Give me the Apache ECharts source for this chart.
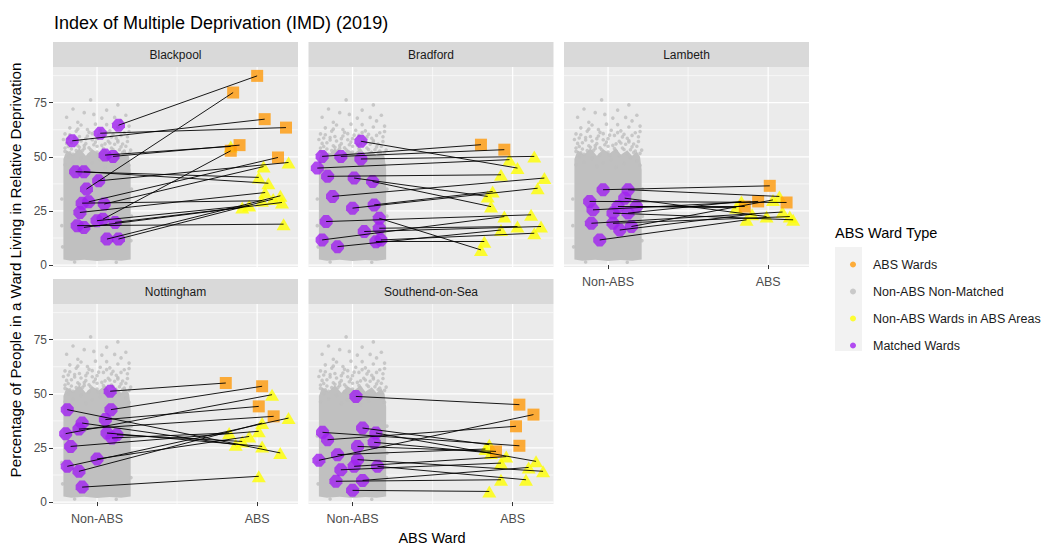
<!DOCTYPE html>
<html><head><meta charset="utf-8">
<script src="https://cdn.jsdelivr.net/npm/echarts@6/dist/echarts.min.js"></script>
<style>html,body{margin:0;padding:0;background:#fff}#c{width:1051px;height:547px}</style>
</head><body><div id="c"></div>
<script>
// ---------------- DATA ----------------
const chartTitle = 'Index of Multiple Deprivation (IMD) (2019)';
const yTitle = 'Percentage of People in a Ward Living in Relative Deprivation';
const xTitle = 'ABS Ward';
const legendTitle = 'ABS Ward Type';
const panelNames = ['Blackpool', 'Bradford', 'Lambeth', 'Nottingham', 'Southend-on-Sea'];
const xCategories = ['Non-ABS', 'ABS'];          // placed at x = 1 and x = 2
const xTickValues = [1, 2];
const xMinorValues = [1.5];
const yTickValues = [0, 25, 50, 75];
const yMinorValues = [12.5, 37.5, 62.5, 87.5];
const seriesNames = ['ABS Wards', 'Non-ABS Non-Matched', 'Non-ABS Wards in ABS Areas', 'Matched Wards'];

// dense core of the jittered non-matched cloud (outline, data units)
const greyCloudCore = [[0.79,2.6],[0.84,2.0],[0.92,2.4],[1.0,1.9],[1.08,2.3],[1.15,2.0],[1.21,2.6],[1.21,44],[1.2,50],[1.18,52.5],[1.15,50.5],[1.12,53],[1.08,51],[1.05,54],[1.01,51.5],[0.97,53.5],[0.93,50.5],[0.89,54],[0.85,51],[0.81,53],[0.79,49],[0.79,40]];
// non-matched wards around and above the dense core
const greyPoints = [[0.96,76.3],[1.13,74.0],[1.06,71.6],[0.85,72.1],[0.92,70.4],[1.18,69.2],[0.81,68.3],[1.03,67.9],[1.15,66.6],[0.88,66.0],[0.99,65.1],[1.2,64.2],[0.83,63.4],[0.94,62.6],[1.08,62.0],[1.17,61.1],[0.8,60.6],[1.01,60.0],[0.89,59.4],[1.12,58.6],[0.97,57.9],[1.19,57.1],[0.84,56.5],[1.05,56.0],[0.92,55.2],[1.15,54.6],[0.8,54.1],[1.1,53.4],[0.87,52.9],[1.0,52.2],[1.2,51.6],[0.95,51.0],[1.07,50.6],[0.82,50.1],[1.14,49.6],[0.9,49.3],[1.02,48.7],[1.18,48.2],[0.85,47.6],[0.97,47.2],[1.1,46.9],[1.2,46.1],[0.8,46.3],[0.93,45.6],[1.05,45.1],[0.86,57.8],[1.09,59.2],[0.95,61.3],[1.13,63.8],[0.9,64.7],[1.04,53.8],[0.98,55.6],[1.17,52.7],[0.83,51.8],[1.12,51.2],[0.89,54.4],[1.01,50.8],[1.16,55.9],[0.82,58.7],[0.93,58.4],[1.06,64.9],[0.87,61.9],[1.11,68.2],[0.98,69.6],
  [0.80,52.5],[0.84,53.6],[0.88,55.1],[0.91,53.0],[0.95,54.2],[0.99,56.8],[1.03,55.3],[1.07,57.2],[1.11,55.8],[1.14,53.3],[1.18,54.9],[1.21,53.1],[0.81,56.2],[0.86,58.9],[0.9,57.3],[0.94,59.6],[1.0,58.4],[1.04,59.9],[1.08,56.4],[1.13,57.5],[1.19,59.3],[0.79,58.0],[0.83,60.2],[0.97,60.7],[1.06,61.2],[1.15,59.9],[1.2,61.7],[0.88,62.8],[1.02,62.3],[1.1,60.4],[0.92,53.9],[1.05,52.7],[1.16,52.0],[0.85,51.2],[0.96,53.3],[1.09,54.1],[1.0,54.9],[0.82,54.8],[1.13,56.9],[0.93,56.1],
  [0.78,30.5],[0.78,18.2],[0.785,8.4],[1.215,35.1],[1.215,22.6],[1.212,11.3],[0.86,1.4],[1.12,1.3]];

// matched wards (Non-ABS side) and their partner (ABS side); type A = ABS Ward, N = Non-ABS Ward in ABS Area
const blackpoolMatched = [[0.845,57.4],[1.02,60.9],[1.134,64.6],[1.05,50.8],[1.10,50.2],[0.866,43.1],[0.918,43.1],[1.01,38.9],[0.934,35.1],[0.948,29.2],[1.045,28.2],[0.893,24.3],[0.907,28.6],[0.876,18.2],[0.918,17.4],[1.0,20.5],[1.037,21.2],[1.113,19.7],[1.062,12.0],[1.134,12.0]];
const blackpoolPartners = [[2.047,67.4],[2.18,63.5],[2.0,87.4],[1.835,54.8],[1.89,55.4],[2.01,40.5],[2.07,37.8],[2.196,47.4],[1.85,79.7],[2.13,49.7],[2.04,45.5],[2.05,33.5],[2.03,29.7],[2.165,18.9],[1.907,26.6],[1.95,27.5],[1.835,52.8],[2.155,28.9],[2.145,32.0],[2.10,30.5]];
const blackpoolPartnerType = ['A','A','A','N','A','N','N','N','A','A','N','N','N','N','N','N','A','N','N','N'];

const bradfordMatched = [[1.052,57.2],[0.81,50.2],[0.927,50.2],[1.052,49.0],[0.78,44.8],[0.844,41.0],[1.01,40.2],[1.125,38.6],[0.875,31.7],[1.0,26.3],[1.135,27.8],[0.835,20.1],[1.167,21.6],[1.073,15.5],[0.81,11.6],[0.906,8.5],[1.146,10.8],[1.167,17.0],[1.177,11.6]];
const bradfordPartners = [[2.03,44.8],[1.802,55.6],[1.948,53.3],[2.135,50.2],[1.98,48.7],[1.927,41.7],[1.844,31.7],[1.865,27.0],[2.198,40.2],[2.156,35.5],[1.875,34.0],[2.115,23.2],[1.802,7.0],[2.177,17.8],[1.948,22.4],[1.927,16.2],[1.823,10.8],[2.03,17.8],[2.135,14.7]];
const bradfordPartnerType = ['N','A','A','N','N','N','N','N','N','N','N','N','N','N','N','N','N','N','N'];

const lambethMatched = [[0.969,34.8],[1.125,34.8],[0.885,29.4],[1.104,30.9],[0.906,25.5],[1.031,24.0],[1.125,24.0],[0.896,19.3],[1.031,19.3],[1.073,16.2],[1.146,17.8],[0.948,11.6],[1.062,27.0],[1.177,27.0]];
const lambethPartners = [[2.01,36.6],[2.07,31.7],[2.115,28.9],[1.99,22.4],[1.9375,29.4],[2.156,20.9],[1.833,29.4],[2.09,24.5],[2.135,22.4],[1.90,23.5],[2.03,30.1],[1.865,20.9],[1.854,27.0],[1.80,26.5]];
const lambethPartnerType = ['A','N','A','N','A','N','N','N','N','N','N','N','A','N'];

const nottinghamMatched = [[1.082,51.2],[1.087,42.7],[0.814,42.7],[1.052,38.1],[0.907,36.5],[0.887,33.7],[0.804,31.6],[1.062,31.9],[1.093,29.6],[0.835,25.7],[0.814,16.5],[0.887,14.2],[1.0,19.9],[0.907,6.9],[1.124,31.1]];
const nottinghamPartners = [[1.804,55.0],[2.031,53.5],[2.144,22.7],[2.01,44.2],[1.866,26.5],[2.103,39.6],[2.093,49.6],[2.031,25.7],[1.825,31.9],[2.01,32.7],[2.196,38.8],[2.031,36.5],[1.95,30.3],[2.01,11.9],[1.907,28.0]];
const nottinghamPartnerType = ['A','A','N','A','N','A','N','N','N','N','N','N','N','N','N'];

const southendMatched = [[1.021,48.8],[0.8125,32.2],[1.0625,34.2],[0.844,28.8],[1.146,31.9],[1.135,27.6],[1.031,25.7],[0.906,21.9],[0.79,19.3],[1.031,19.6],[1.156,16.5],[0.927,14.9],[1.01,16.5],[0.896,9.6],[1.0625,10.0],[1.0,5.4]];
const southendPartners = [[2.042,45.0],[2.042,26.0],[1.854,26.5],[2.021,35.0],[2.146,18.8],[1.865,22.7],[1.896,23.4],[1.83,24.5],[2.13,40.4],[2.19,14.2],[2.083,10.3],[1.927,18.0],[1.96,21.0],[1.927,10.3],[2.10,16.0],[1.854,4.9]];
const southendPartnerType = ['A','A','N','A','N','N','A','N','A','N','N','N','N','N','N','N'];

// ---------------- LAYOUT / STYLE ----------------
const FONT = '"Liberation Sans", Arial, Helvetica, sans-serif';
const COLORS = { abs: '#FF9A0A', grey: '#BEBEBE', yellow: '#FFFF00', purple: '#A020F0' };
const X_MIN = 0.725, X_MAX = 2.255, Y_MIN = -0.9, Y_MAX = 91.5;
const colLeft = [53, 308.5, 564], panelW = 245, panelH = 200;
const rowTop = [67, 304], stripH = 25;
const panelPos = [[0,0],[1,0],[2,0],[0,1],[1,1]];
const showXLabels = [false, false, true, true, true];
const showYLabels = [true, false, false, true, false];
const octSymbol = 'path://M3,0L7,0L10,3.4L10,6.6L7,10L3,10L0,6.6L0,3.4Z';

const panels = [
  { m: blackpoolMatched, p: blackpoolPartners, t: blackpoolPartnerType },
  { m: bradfordMatched, p: bradfordPartners, t: bradfordPartnerType },
  { m: lambethMatched, p: lambethPartners, t: lambethPartnerType },
  { m: nottinghamMatched, p: nottinghamPartners, t: nottinghamPartnerType },
  { m: southendMatched, p: southendPartners, t: southendPartnerType }
];

function gridRender(params, api) {
  const cs = params.coordSys;
  const ch = [];
  const hline = (v, w) => { const y = api.coord([X_MIN, v])[1]; ch.push({ type: 'line', shape: { x1: cs.x, y1: y, x2: cs.x + cs.width, y2: y }, style: { stroke: '#FFFFFF', lineWidth: w } }); };
  const vline = (v, w) => { const x = api.coord([v, 0])[0]; ch.push({ type: 'line', shape: { x1: x, y1: cs.y, x2: x, y2: cs.y + cs.height }, style: { stroke: '#FFFFFF', lineWidth: w } }); };
  yMinorValues.forEach(v => hline(v, 0.6));
  xMinorValues.forEach(v => vline(v, 0.6));
  yTickValues.forEach(v => hline(v, 1.2));
  xTickValues.forEach(v => vline(v, 1.2));
  return { type: 'group', children: ch };
}
function cloudRender(params, api) {
  return { type: 'polygon', shape: { points: greyCloudCore.map(p => api.coord(p)) }, style: { fill: '#C0C0C0' } };
}

const grids = [], xAxes = [], yAxes = [], series = [], graphics = [];
panels.forEach((pn, i) => {
  const [c, r] = panelPos[i];
  grids.push({ left: colLeft[c], top: rowTop[r], width: panelW, height: panelH, show: true, backgroundColor: '#EBEBEB', borderWidth: 0 });
  xAxes.push({
    gridIndex: i, type: 'value', min: X_MIN, max: X_MAX,
    axisLine: { show: false }, splitLine: { show: false },
    axisTick: { show: showXLabels[i], customValues: xTickValues, length: 4, lineStyle: { color: '#333333', width: 1 } },
    axisLabel: { show: showXLabels[i], customValues: xTickValues, formatter: v => xCategories[Math.round(v) - 1], color: '#4D4D4D', fontSize: 12.5, fontFamily: FONT, margin: 8 }
  });
  yAxes.push({
    gridIndex: i, type: 'value', min: Y_MIN, max: Y_MAX,
    axisLine: { show: false }, splitLine: { show: false },
    axisTick: { show: showYLabels[i], customValues: yTickValues, length: 4, lineStyle: { color: '#333333', width: 1 } },
    axisLabel: { show: showYLabels[i], customValues: yTickValues, color: '#4D4D4D', fontSize: 12, fontFamily: FONT, margin: 6 }
  });
  const base = { xAxisIndex: i, yAxisIndex: i, silent: true, animation: false };
  series.push(Object.assign({ type: 'custom', renderItem: gridRender, data: [[1, 0]], z: 0 }, base));
  series.push(Object.assign({ type: 'custom', renderItem: cloudRender, data: [[1, 0]], z: 1 }, base));
  series.push(Object.assign({ type: 'scatter', name: seriesNames[1], data: greyPoints, symbolSize: 3.6, itemStyle: { color: COLORS.grey }, z: 2 }, base));
  const yellow = pn.p.filter((q, k) => pn.t[k] === 'N');
  const orange = pn.p.filter((q, k) => pn.t[k] === 'A');
  series.push(Object.assign({ type: 'scatter', name: seriesNames[2], data: yellow, symbol: 'triangle', symbolSize: [14, 12], itemStyle: { color: COLORS.yellow }, z: 3 }, base));
  series.push(Object.assign({ type: 'scatter', name: seriesNames[0], data: orange, symbol: 'rect', symbolSize: 12, itemStyle: { color: COLORS.abs }, z: 4 }, base));
  series.push(Object.assign({ type: 'scatter', name: seriesNames[3], data: pn.m, symbol: octSymbol, symbolSize: 13, itemStyle: { color: COLORS.purple }, z: 5 }, base));
  series.push(Object.assign({ type: 'lines', coordinateSystem: 'cartesian2d', polyline: false,
    data: pn.m.map((a, k) => ({ coords: [a, pn.p[k]] })),
    lineStyle: { color: '#000000', width: 1, opacity: 0.9 }, z: 6 }, base));
  // facet strip
  graphics.push({ type: 'rect', shape: { x: colLeft[c], y: rowTop[r] - stripH, width: panelW, height: stripH }, style: { fill: '#D9D9D9' }, silent: true });
  graphics.push({ type: 'text', x: colLeft[c] + panelW / 2, y: rowTop[r] - stripH / 2, style: { text: panelNames[i], fill: '#1A1A1A', font: '12px ' + FONT, textAlign: 'center', textVerticalAlign: 'middle' }, silent: true });
});

graphics.push({ type: 'text', x: 15, y: 270, rotation: Math.PI / 2, style: { text: yTitle, fill: '#000000', font: '15.2px ' + FONT, textAlign: 'center', textVerticalAlign: 'middle' }, silent: true });
graphics.push({ type: 'text', x: 432, y: 538, style: { text: xTitle, fill: '#000000', font: '14.5px ' + FONT, textAlign: 'center', textVerticalAlign: 'middle' }, silent: true });
graphics.push({ type: 'rect', shape: { x: 835, y: 247, width: 27, height: 104 }, style: { fill: '#F2F2F2' }, silent: true });
graphics.push({ type: 'text', x: 835, y: 233, style: { text: legendTitle, fill: '#000000', font: '14.5px ' + FONT, textAlign: 'left', textVerticalAlign: 'middle' }, silent: true });

const chart = echarts.init(document.getElementById('c'), null, { renderer: 'svg', width: 1051, height: 547 });
chart.setOption({
  animation: false,
  backgroundColor: '#FFFFFF',
  title: { text: chartTitle, left: 49, top: 9, textStyle: { fontSize: 18, fontWeight: 'normal', color: '#000000', fontFamily: FONT } },
  legend: {
    left: 845, top: 253, orient: 'vertical', itemWidth: 6, itemHeight: 6, itemGap: 14, selectedMode: false,
    data: seriesNames.map(n => ({ name: n, icon: 'circle' })),
    textStyle: { fontSize: 12.5, color: '#1A1A1A', fontFamily: FONT, lineHeight: 12, padding: [0, 0, 0, 12] }
  },
  grid: grids, xAxis: xAxes, yAxis: yAxes, series: series,
  graphic: { elements: graphics }
});
</script></body></html>
